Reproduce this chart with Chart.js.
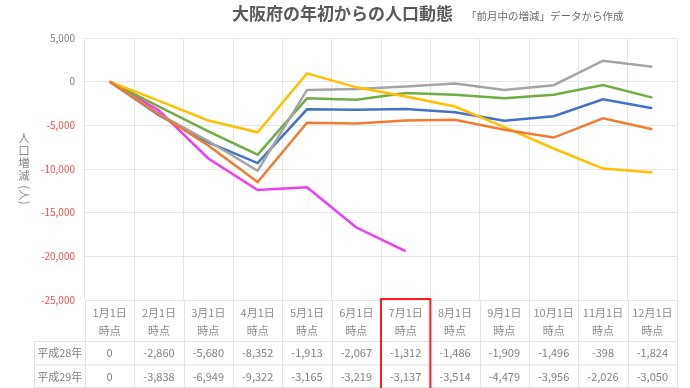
<!DOCTYPE html>
<html>
<head>
<meta charset="utf-8">
<script src="https://cdn.jsdelivr.net/npm/chart.js@4"></script>
<style>
  html, body { margin: 0; padding: 0; background: #fff; }
  #wrap { width: 690px; height: 388px; }
</style>
</head>
<body>
<div id="wrap"><canvas id="popChart" width="690" height="388"></canvas></div>
<script>
// 月初時点（1月1日からの累計増減）
const months = ['1月1日', '2月1日', '3月1日', '4月1日', '5月1日', '6月1日', '7月1日', '8月1日', '9月1日', '10月1日', '11月1日', '12月1日'];
const h28 = [0, -2860, -5680, -8352, -1913, -2067, -1312, -1486, -1909, -1496, -398, -1824];
const h29 = [0, -3838, -6949, -9322, -3165, -3219, -3137, -3514, -4479, -3956, -2026, -3050];
const h30 = [0, -3700, -7300, -11500, -4700, -4800, -4450, -4350, -5500, -6400, -4200, -5450];
const h31 = [0, -3700, -6800, -10200, -950, -830, -550, -200, -950, -400, 2400, 1700];
const r2 = [0, -2200, -4450, -5800, 950, -650, -1700, -2850, -5200, -7650, -9950, -10400];
const r3 = [0, -3300, -8800, -12400, -12100, -16700, -19400, null, null, null, null, null];
const yTicks = [5000, 0, -5000, -10000, -15000, -20000, -25000];

const FONT = "'Noto Sans CJK JP', 'Noto Sans', sans-serif";
const fmt = v => v.toLocaleString('en-US');

// タイトル・縦書き軸名・データテーブル
const extras = {
    id: 'extras',
    afterDraw(chart) {
        const c = chart.ctx;
        const area = chart.chartArea;
        const x = chart.scales.x;
        const colW = (area.right - area.left) / months.length;
        c.save();

        // タイトル
        c.fillStyle = '#595959';
        c.textBaseline = 'middle';
        c.textAlign = 'left';
        c.font = 'bold 17px ' + FONT;
        c.fillText('大阪府の年初からの人口動態', 232, 14);
        c.font = '10.5px ' + FONT;
        c.fillStyle = '#6a6a6a';
        c.fillText('「前月中の増減」データから作成', 466, 16);

        // 縦軸タイトル（縦書き）
        c.fillStyle = '#8a8a8a';
        c.font = '11.5px ' + FONT;
        c.textAlign = 'center';
        ['人', '口', '増', '減'].forEach((ch, i) => c.fillText(ch, 24, 138 + i * 12.5));
        c.save();
        c.translate(24, 195);
        c.rotate(Math.PI / 2);
        c.fillText('(人)', 0, 0);
        c.restore();

        // テーブルの罫線
        const H = chart.height;
        const rowTop = 341.5, rowMid = 365, rowBot = 387.5, left = 34.5;
        c.strokeStyle = '#e2e2e2';
        c.lineWidth = 1;
        c.beginPath();
        for (let i = 0; i <= months.length; i++) {
            const gx = Math.round(area.left + i * colW) + 0.5;
            c.moveTo(gx, area.bottom);
            c.lineTo(gx, H);
        }
        c.moveTo(left, rowTop); c.lineTo(left, H);
        [rowTop, rowMid, rowBot].forEach(yy => {
            c.moveTo(left, yy); c.lineTo(area.right, yy);
        });
        c.stroke();

        // テーブルの値
        c.fillStyle = '#808080';
        c.font = '11px ' + FONT;
        c.textAlign = 'center';
        const rows = [['平成28年', h28, 353], ['平成29年', h29, 376.5]];
        rows.forEach(([name, vals, yy]) => {
            c.fillText(name, (left + area.left) / 2, yy);
            vals.forEach((v, i) => c.fillText(fmt(v), x.getPixelForValue(i), yy));
        });

        // 7月1日の強調枠
        c.strokeStyle = '#ff1f1f';
        c.lineWidth = 2;
        const bx0 = area.left + 6 * colW, bx1 = area.left + 7 * colW;
        c.strokeRect(bx0, 299, bx1 - bx0, H);
        c.restore();
    }
};

const mk = (label, data, color) => ({
    label: label,
    data: data,
    borderColor: color,
    backgroundColor: color,
    borderWidth: 2.5,
    pointRadius: 0,
    tension: 0,
    spanGaps: false
});

new Chart(document.getElementById('popChart').getContext('2d'), {
    type: 'line',
    data: {
        labels: months.map(m => [m, '時点']),
        datasets: [
            mk('平成30年', h30, '#ED7D31'),
            mk('令和2年', r2, '#FFC000'),
            mk('平成31年', h31, '#A5A5A5'),
            mk('平成28年', h28, '#70AD47'),
            mk('平成29年', h29, '#4472C4'),
            mk('令和3年', r3, '#F03CF0')
        ]
    },
    options: {
        responsive: false,
        animation: false,
        layout: { padding: { top: 38, right: 13, left: 0, bottom: 0 } },
        plugins: {
            legend: { display: false },
            tooltip: { enabled: false }
        },
        scales: {
            x: {
                offset: true,
                grid: { color: '#e6e6e6', drawTicks: false, offset: true },
                border: { display: false },
                ticks: {
                    autoSkip: false,
                    maxRotation: 0,
                    padding: 3,
                    color: '#8c8c8c',
                    font: { family: FONT, size: 11, lineHeight: 1.7 }
                },
                afterFit: s => { s.height = 88; }
            },
            y: {
                min: -25000,
                max: 5000,
                afterBuildTicks: s => { s.ticks = yTicks.map(v => ({ value: v })); },
                grid: { color: '#e6e6e6', drawTicks: false },
                border: { display: false },
                ticks: {
                    padding: 10,
                    font: { family: FONT, size: 10 },
                    color: ctx => ctx.tick.value < 0 ? '#ff4d4d' : '#7f7f7f',
                    callback: v => fmt(v)
                },
                afterFit: s => { s.width = 85; }
            }
        }
    },
    plugins: [extras]
});
</script>
</body>
</html>
